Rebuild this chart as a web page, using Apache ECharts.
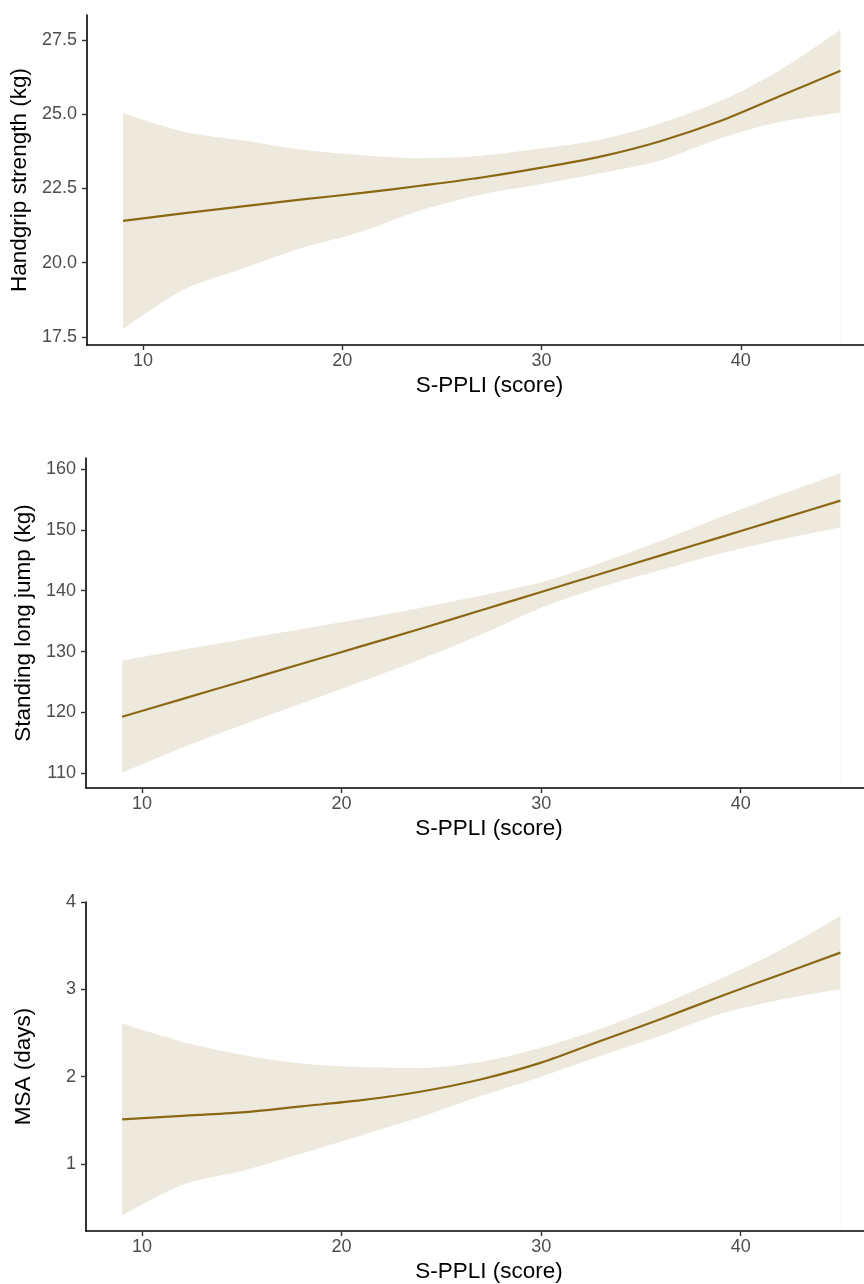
<!DOCTYPE html>
<html>
<head>
<meta charset="utf-8">
<script src="https://cdn.jsdelivr.net/npm/echarts@6/dist/echarts.min.js"></script>
<style>
  html, body { margin: 0; padding: 0; background: #fff; }
  #chart { width: 864px; height: 1284px; }
</style>
</head>
<body>
<div id="chart"></div>
<script>
// S-PPLI score where the fitted curves were read
const scores = [9, 12, 15, 18, 21, 24, 27, 30, 33, 36, 39, 42, 45]
const xTicks = [10, 20, 30, 40]

// handgrip strength (kg)
const gripFit  = [21.41, 21.66, 21.90, 22.13, 22.35, 22.60, 22.87, 23.20, 23.58, 24.10, 24.78, 25.62, 26.46]
const gripLow  = [17.76, 19.08, 19.80, 20.50, 21.05, 21.78, 22.30, 22.65, 23.02, 23.45, 24.20, 24.75, 25.05]
const gripHigh = [25.03, 24.42, 24.12, 23.80, 23.62, 23.52, 23.60, 23.85, 24.15, 24.70, 25.45, 26.50, 27.84]
const gripTicks = [17.5, 20.0, 22.5, 25.0, 27.5]

// standing long jump
const jumpFit  = [119.3, 122.2, 125.1, 128.0, 130.9, 133.8, 136.8, 139.8, 142.8, 145.8, 148.8, 151.8, 154.8]
const jumpLow  = [110.1, 114.2, 117.9, 121.5, 125.1, 128.8, 132.8, 137.2, 140.6, 143.4, 146.1, 148.4, 150.4]
const jumpHigh = [128.5, 130.3, 132.0, 133.7, 135.4, 137.2, 139.2, 141.4, 144.6, 148.2, 152.1, 155.8, 159.3]
const jumpTicks = [110, 120, 130, 140, 150, 160]

// MSA (days)
const msaFit  = [1.51, 1.55, 1.59, 1.66, 1.73, 1.83, 1.97, 2.16, 2.41, 2.66, 2.92, 3.17, 3.42]
const msaLow  = [0.41, 0.76, 0.92, 1.12, 1.33, 1.54, 1.78, 2.00, 2.24, 2.47, 2.72, 2.88, 3.00]
const msaHigh = [2.61, 2.40, 2.25, 2.15, 2.11, 2.10, 2.17, 2.33, 2.55, 2.82, 3.12, 3.45, 3.84]
const msaTicks = [1, 2, 3, 4]

const lineColor = '#8B6914'
const bandColor = '#EEE9DD'
const font = 'Liberation Sans, Arial, sans-serif'

const panels = [
  { name: 'Handgrip strength (kg)', fit: gripFit, low: gripLow, high: gripHigh, ticks: gripTicks,
    min: 17.23, max: 28.34, top: 15, height: 330, digits: 1 },
  { name: 'Standing long jump (kg)', fit: jumpFit, low: jumpLow, high: jumpHigh, ticks: jumpTicks,
    min: 107.6, max: 161.8, top: 458, height: 330, digits: 0 },
  { name: 'MSA (days)', fit: msaFit, low: msaLow, high: msaHigh, ticks: msaTicks,
    min: 0.232, max: 4.0, top: 902, height: 329, digits: 0 }
]

const pairs = (vals) => scores.map((s, i) => [s, vals[i]])

const grid = [], xAxis = [], yAxis = [], series = []

panels.forEach((p, k) => {
  grid.push({ left: 86, right: 0, top: p.top, height: p.height })

  xAxis.push({
    type: 'value', gridIndex: k, min: 7.19, max: 46.18, z: 10,
    name: 'S-PPLI (score)', nameLocation: 'middle', nameGap: 29,
    nameTextStyle: { color: '#000', fontSize: 22.5, fontFamily: font, padding: [0, 0, 0, 28] },
    splitLine: { show: false },
    axisLine: { onZero: false, lineStyle: { color: '#000', width: 1.6 } },
    axisTick: { customValues: xTicks, length: 5, lineStyle: { color: '#333', width: 1.4 } },
    axisLabel: { customValues: xTicks, color: '#4d4d4d', fontSize: 18, fontFamily: font, margin: 7 }
  })

  yAxis.push({
    type: 'value', gridIndex: k, min: p.min, max: p.max, z: 10,
    name: p.name, nameLocation: 'middle', nameGap: 51, nameRotate: 90,
    nameTextStyle: { color: '#000', fontSize: 22.5, fontFamily: font },
    splitLine: { show: false },
    axisLine: { show: true, onZero: false, lineStyle: { color: '#000', width: 1.6 } },
    axisTick: { show: true, customValues: p.ticks, length: 5, lineStyle: { color: '#333', width: 1.4 } },
    axisLabel: {
      customValues: p.ticks, color: '#4d4d4d', fontSize: 18, fontFamily: font, margin: 10,
      formatter: (v) => v.toFixed(p.digits)
    }
  })

  // confidence band: fill below upper edge, then blank out below lower edge
  series.push({
    type: 'line', xAxisIndex: k, yAxisIndex: k,
    data: pairs(p.high), symbol: 'none', smooth: 0.3,
    lineStyle: { opacity: 0 }, areaStyle: { color: bandColor, opacity: 1, origin: 'start' },
    silent: true, z: 2
  })
  series.push({
    type: 'line', xAxisIndex: k, yAxisIndex: k,
    data: pairs(p.low), symbol: 'none', smooth: 0.3,
    lineStyle: { opacity: 0 }, areaStyle: { color: '#fff', opacity: 1, origin: 'start' },
    silent: true, z: 3
  })
  series.push({
    type: 'line', xAxisIndex: k, yAxisIndex: k,
    data: pairs(p.fit), symbol: 'none', smooth: 0.3,
    lineStyle: { color: lineColor, width: 2.2 }, z: 5
  })
})

const chart = echarts.init(document.getElementById('chart'))
chart.setOption({ animation: false, grid, xAxis, yAxis, series })
</script>
</body>
</html>
